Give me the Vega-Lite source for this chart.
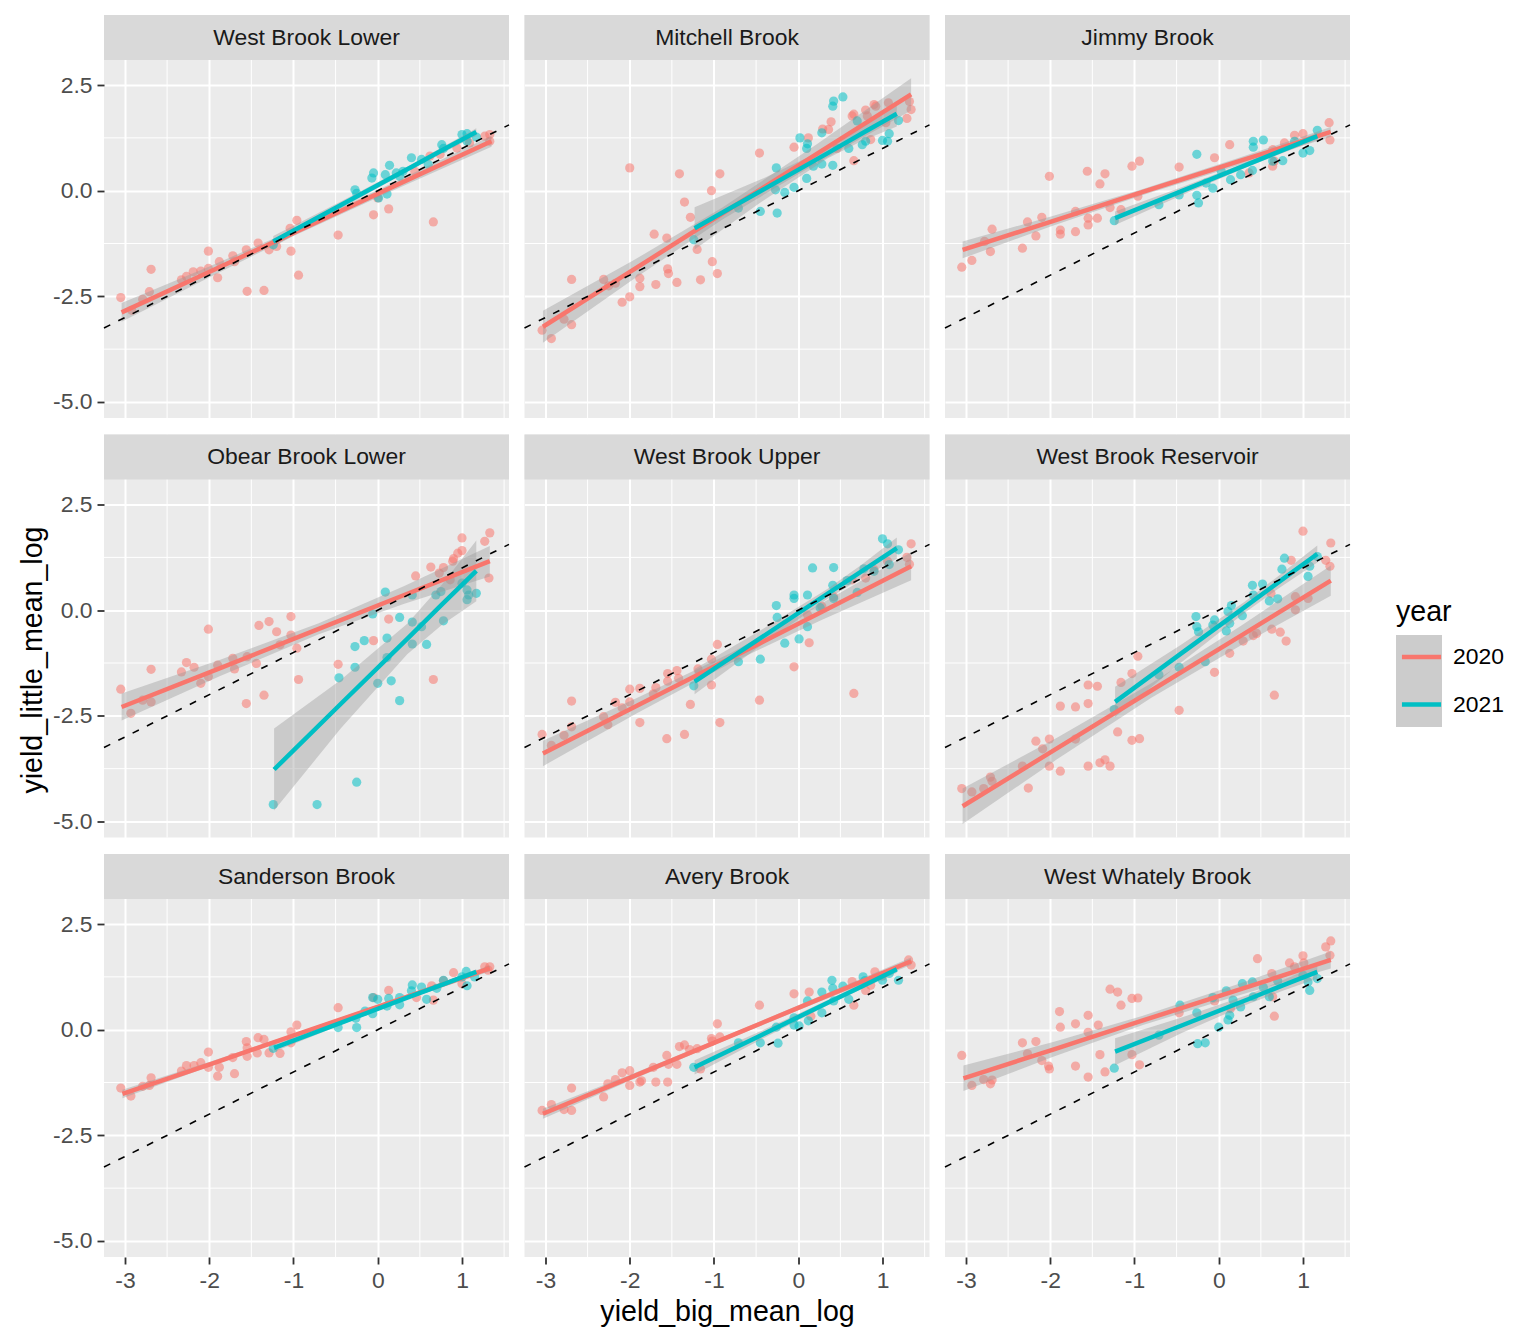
{
"$schema": "https://vega.github.io/schema/vega-lite/v6.json",
"background": "#FFFFFF",
"padding": {"left": 18, "top": 14, "right": 265, "bottom": 10},
"autosize": {"type": "pad"},
"columns": 3,
"bounds": "flush",
"spacing": {"row": 16.5, "column": 15.5},
"datasets": {
"minorx": [{"gx":-2.5},{"gx":-1.5},{"gx":-0.5},{"gx":0.5},{"gx":1.5}],
"minory": [{"gy":-3.75},{"gy":-1.25},{"gy":1.25}],
"sites": [
{"site":"WBL","name":"West Brook Lower"},{"site":"MB","name":"Mitchell Brook"},{"site":"JB","name":"Jimmy Brook"},
{"site":"OBL","name":"Obear Brook Lower"},{"site":"WBU","name":"West Brook Upper"},{"site":"WBR","name":"West Brook Reservoir"},
{"site":"SB","name":"Sanderson Brook"},{"site":"AB","name":"Avery Brook"},{"site":"WWB","name":"West Whately Brook"}],
"ref": [{"big":-3.249,"little":-3.249},{"big":1.558,"little":1.558}],
"fit": [
{"site":"WBL","year":"2020","big":-3.04,"fit":-2.88,"lo":-3.10,"hi":-2.66},{"site":"WBL","year":"2020","big":-2.02,"fit":-1.94,"lo":-2.07,"hi":-1.81},{"site":"WBL","year":"2020","big":-1.0,"fit":-1.0,"lo":-1.07,"hi":-0.93},{"site":"WBL","year":"2020","big":0.175,"fit":0.09,"lo":0.0,"hi":0.18},{"site":"WBL","year":"2020","big":1.35,"fit":1.17,"lo":1.04,"hi":1.30},
{"site":"WBL","year":"2021","big":-1.24,"fit":-1.20,"lo":-1.33,"hi":-1.07},{"site":"WBL","year":"2021","big":-0.42,"fit":-0.32,"lo":-0.40,"hi":-0.24},{"site":"WBL","year":"2021","big":0.4,"fit":0.56,"lo":0.50,"hi":0.62},{"site":"WBL","year":"2021","big":0.785,"fit":0.98,"lo":0.91,"hi":1.05},{"site":"WBL","year":"2021","big":1.17,"fit":1.39,"lo":1.30,"hi":1.48},
{"site":"MB","year":"2020","big":-3.03,"fit":-3.22,"lo":-3.60,"hi":-2.84},{"site":"MB","year":"2020","big":-1.965,"fit":-1.88,"lo":-2.11,"hi":-1.66},{"site":"MB","year":"2020","big":-0.9,"fit":-0.54,"lo":-0.68,"hi":-0.40},{"site":"MB","year":"2020","big":0.22,"fit":0.87,"lo":0.65,"hi":1.10},{"site":"MB","year":"2020","big":1.34,"fit":2.28,"lo":1.90,"hi":2.66},
{"site":"MB","year":"2021","big":-1.23,"fit":-0.89,"lo":-1.39,"hi":-0.39},{"site":"MB","year":"2021","big":-0.44,"fit":0.0,"lo":-0.27,"hi":0.27},{"site":"MB","year":"2021","big":0.35,"fit":0.89,"lo":0.77,"hi":1.01},{"site":"MB","year":"2021","big":0.76,"fit":1.36,"lo":1.18,"hi":1.54},{"site":"MB","year":"2021","big":1.17,"fit":1.82,"lo":1.52,"hi":2.12},
{"site":"JB","year":"2020","big":-3.04,"fit":-1.40,"lo":-1.60,"hi":-1.20},{"site":"JB","year":"2020","big":-1.97,"fit":-0.72,"lo":-0.83,"hi":-0.60},{"site":"JB","year":"2020","big":-0.9,"fit":-0.03,"lo":-0.10,"hi":0.04},{"site":"JB","year":"2020","big":0.215,"fit":0.68,"lo":0.59,"hi":0.76},{"site":"JB","year":"2020","big":1.33,"fit":1.39,"lo":1.27,"hi":1.51},
{"site":"JB","year":"2021","big":-1.23,"fit":-0.65,"lo":-0.81,"hi":-0.49},{"site":"JB","year":"2021","big":-0.44,"fit":-0.01,"lo":-0.11,"hi":0.08},{"site":"JB","year":"2021","big":0.35,"fit":0.63,"lo":0.57,"hi":0.69},{"site":"JB","year":"2021","big":0.76,"fit":0.96,"lo":0.89,"hi":1.03},{"site":"JB","year":"2021","big":1.17,"fit":1.29,"lo":1.20,"hi":1.38},
{"site":"OBL","year":"2020","big":-3.04,"fit":-2.29,"lo":-2.61,"hi":-1.97},{"site":"OBL","year":"2020","big":-1.87,"fit":-1.37,"lo":-1.56,"hi":-1.17},{"site":"OBL","year":"2020","big":-0.7,"fit":-0.44,"lo":-0.57,"hi":-0.31},{"site":"OBL","year":"2020","big":0.315,"fit":0.36,"lo":0.15,"hi":0.57},{"site":"OBL","year":"2020","big":1.33,"fit":1.16,"lo":0.80,"hi":1.52},
{"site":"OBL","year":"2021","big":-1.23,"fit":-3.77,"lo":-4.74,"hi":-2.80},{"site":"OBL","year":"2021","big":-0.44,"fit":-2.22,"lo":-2.80,"hi":-1.65},{"site":"OBL","year":"2021","big":0.35,"fit":-0.68,"lo":-1.04,"hi":-0.32},{"site":"OBL","year":"2021","big":0.76,"fit":0.13,"lo":-0.35,"hi":0.60},{"site":"OBL","year":"2021","big":1.17,"fit":0.93,"lo":0.21,"hi":1.65},
{"site":"WBU","year":"2020","big":-3.03,"fit":-3.39,"lo":-3.69,"hi":-3.09},{"site":"WBU","year":"2020","big":-1.915,"fit":-2.26,"lo":-2.44,"hi":-2.08},{"site":"WBU","year":"2020","big":-0.8,"fit":-1.13,"lo":-1.25,"hi":-1.01},{"site":"WBU","year":"2020","big":0.27,"fit":-0.05,"lo":-0.24,"hi":0.15},{"site":"WBU","year":"2020","big":1.34,"fit":1.04,"lo":0.71,"hi":1.37},
{"site":"WBU","year":"2021","big":-1.23,"fit":-1.69,"lo":-1.99,"hi":-1.39},{"site":"WBU","year":"2021","big":-0.44,"fit":-0.65,"lo":-0.83,"hi":-0.47},{"site":"WBU","year":"2021","big":0.35,"fit":0.39,"lo":0.27,"hi":0.51},{"site":"WBU","year":"2021","big":0.76,"fit":0.93,"lo":0.77,"hi":1.09},{"site":"WBU","year":"2021","big":1.17,"fit":1.47,"lo":1.22,"hi":1.72},
{"site":"WBR","year":"2020","big":-3.04,"fit":-4.64,"lo":-5.06,"hi":-4.22},{"site":"WBR","year":"2020","big":-1.92,"fit":-3.27,"lo":-3.53,"hi":-3.02},{"site":"WBR","year":"2020","big":-0.8,"fit":-1.90,"lo":-2.07,"hi":-1.73},{"site":"WBR","year":"2020","big":0.265,"fit":-0.60,"lo":-0.83,"hi":-0.37},{"site":"WBR","year":"2020","big":1.33,"fit":0.70,"lo":0.34,"hi":1.06},
{"site":"WBR","year":"2021","big":-1.23,"fit":-2.17,"lo":-2.53,"hi":-1.81},{"site":"WBR","year":"2021","big":-0.465,"fit":-1.05,"lo":-1.27,"hi":-0.84},{"site":"WBR","year":"2021","big":0.3,"fit":0.06,"lo":-0.07,"hi":0.19},{"site":"WBR","year":"2021","big":0.735,"fit":0.70,"lo":0.55,"hi":0.85},{"site":"WBR","year":"2021","big":1.17,"fit":1.33,"lo":1.13,"hi":1.53},
{"site":"SB","year":"2020","big":-3.03,"fit":-1.52,"lo":-1.62,"hi":-1.42},{"site":"SB","year":"2020","big":-1.965,"fit":-0.80,"lo":-0.85,"hi":-0.74},{"site":"SB","year":"2020","big":-0.9,"fit":-0.07,"lo":-0.11,"hi":-0.03},{"site":"SB","year":"2020","big":0.215,"fit":0.69,"lo":0.64,"hi":0.74},{"site":"SB","year":"2020","big":1.33,"fit":1.45,"lo":1.38,"hi":1.52},
{"site":"SB","year":"2021","big":-1.23,"fit":-0.43,"lo":-0.52,"hi":-0.34},{"site":"SB","year":"2021","big":-0.44,"fit":0.16,"lo":0.11,"hi":0.22},{"site":"SB","year":"2021","big":0.35,"fit":0.76,"lo":0.72,"hi":0.80},{"site":"SB","year":"2021","big":0.76,"fit":1.06,"lo":1.02,"hi":1.11},{"site":"SB","year":"2021","big":1.17,"fit":1.37,"lo":1.31,"hi":1.43},
{"site":"AB","year":"2020","big":-3.03,"fit":-1.99,"lo":-2.11,"hi":-1.87},{"site":"AB","year":"2020","big":-1.965,"fit":-1.11,"lo":-1.18,"hi":-1.04},{"site":"AB","year":"2020","big":-0.9,"fit":-0.23,"lo":-0.28,"hi":-0.18},{"site":"AB","year":"2020","big":0.22,"fit":0.70,"lo":0.64,"hi":0.76},{"site":"AB","year":"2020","big":1.34,"fit":1.62,"lo":1.53,"hi":1.71},
{"site":"AB","year":"2021","big":-1.23,"fit":-0.89,"lo":-1.06,"hi":-0.72},{"site":"AB","year":"2021","big":-0.44,"fit":-0.13,"lo":-0.23,"hi":-0.03},{"site":"AB","year":"2021","big":0.35,"fit":0.64,"lo":0.58,"hi":0.70},{"site":"AB","year":"2021","big":0.76,"fit":1.03,"lo":0.97,"hi":1.10},{"site":"AB","year":"2021","big":1.17,"fit":1.43,"lo":1.35,"hi":1.51},
{"site":"WWB","year":"2020","big":-3.03,"fit":-1.15,"lo":-1.45,"hi":-0.85},{"site":"WWB","year":"2020","big":-1.965,"fit":-0.47,"lo":-0.64,"hi":-0.29},{"site":"WWB","year":"2020","big":-0.9,"fit":0.22,"lo":0.11,"hi":0.33},{"site":"WWB","year":"2020","big":0.215,"fit":0.93,"lo":0.80,"hi":1.07},{"site":"WWB","year":"2020","big":1.33,"fit":1.65,"lo":1.45,"hi":1.85},
{"site":"WWB","year":"2021","big":-1.23,"fit":-0.52,"lo":-0.84,"hi":-0.20},{"site":"WWB","year":"2021","big":-0.44,"fit":0.10,"lo":-0.08,"hi":0.29},{"site":"WWB","year":"2021","big":0.35,"fit":0.72,"lo":0.61,"hi":0.83},{"site":"WWB","year":"2021","big":0.76,"fit":1.05,"lo":0.92,"hi":1.17},{"site":"WWB","year":"2021","big":1.17,"fit":1.37,"lo":1.21,"hi":1.53}
],
"pts": [
{"site":"WBL","year":"2020","big":-3.05,"little":-2.53},{"site":"WBL","year":"2020","big":-2.69,"little":-1.86},{"site":"WBL","year":"2020","big":-2.71,"little":-2.39},{"site":"WBL","year":"2020","big":-2.79,"little":-2.57},{"site":"WBL","year":"2020","big":-2.92,"little":-2.83},{"site":"WBL","year":"2020","big":-2.33,"little":-2.11},{"site":"WBL","year":"2020","big":-2.27,"little":-2.03},{"site":"WBL","year":"2020","big":-2.19,"little":-1.92},{"site":"WBL","year":"2020","big":-2.10,"little":-1.90},{"site":"WBL","year":"2020","big":-2.01,"little":-1.43},{"site":"WBL","year":"2020","big":-2.01,"little":-1.84},{"site":"WBL","year":"2020","big":-1.90,"little":-2.06},{"site":"WBL","year":"2020","big":-1.88,"little":-1.68},{"site":"WBL","year":"2020","big":-1.72,"little":-1.54},{"site":"WBL","year":"2020","big":-1.70,"little":-1.68},{"site":"WBL","year":"2020","big":-1.56,"little":-1.40},{"site":"WBL","year":"2020","big":-1.55,"little":-2.38},{"site":"WBL","year":"2020","big":-1.42,"little":-1.24},{"site":"WBL","year":"2020","big":-1.35,"little":-2.36},{"site":"WBL","year":"2020","big":-1.29,"little":-1.40},{"site":"WBL","year":"2020","big":-1.20,"little":-1.32},{"site":"WBL","year":"2020","big":-1.03,"little":-1.43},{"site":"WBL","year":"2020","big":-1.04,"little":-0.89},{"site":"WBL","year":"2020","big":-0.96,"little":-0.70},{"site":"WBL","year":"2020","big":-0.94,"little":-2.0},{"site":"WBL","year":"2020","big":-0.47,"little":-1.05},{"site":"WBL","year":"2020","big":-0.05,"little":-0.57},{"site":"WBL","year":"2020","big":0.13,"little":-0.43},{"site":"WBL","year":"2020","big":0.66,"little":-0.74},{"site":"WBL","year":"2020","big":0.44,"little":0.46},{"site":"WBL","year":"2020","big":0.62,"little":0.82},{"site":"WBL","year":"2020","big":0.74,"little":0.86},{"site":"WBL","year":"2020","big":0.94,"little":1.01},{"site":"WBL","year":"2020","big":1.09,"little":1.13},{"site":"WBL","year":"2020","big":1.27,"little":1.29},{"site":"WBL","year":"2020","big":1.33,"little":1.33},{"site":"WBL","year":"2020","big":1.33,"little":1.17},{"site":"WBL","year":"2020","big":0.0,"little":-0.17},
{"site":"WBL","year":"2021","big":-1.24,"little":-1.28},{"site":"WBL","year":"2021","big":-0.27,"little":0.02},{"site":"WBL","year":"2021","big":-0.25,"little":-0.06},{"site":"WBL","year":"2021","big":-0.07,"little":0.30},{"site":"WBL","year":"2021","big":-0.05,"little":0.42},{"site":"WBL","year":"2021","big":0.01,"little":-0.17},{"site":"WBL","year":"2021","big":0.09,"little":0.38},{"site":"WBL","year":"2021","big":0.11,"little":-0.08},{"site":"WBL","year":"2021","big":0.14,"little":0.60},{"site":"WBL","year":"2021","big":0.22,"little":0.42},{"site":"WBL","year":"2021","big":0.40,"little":0.78},{"site":"WBL","year":"2021","big":0.52,"little":0.74},{"site":"WBL","year":"2021","big":0.60,"little":0.62},{"site":"WBL","year":"2021","big":0.76,"little":1.09},{"site":"WBL","year":"2021","big":0.78,"little":1.0},{"site":"WBL","year":"2021","big":1.0,"little":1.33},{"site":"WBL","year":"2021","big":1.06,"little":1.35},{"site":"WBL","year":"2021","big":1.06,"little":1.17},{"site":"WBL","year":"2021","big":1.17,"little":1.27},{"site":"WBL","year":"2021","big":0.30,"little":0.46},{"site":"WBL","year":"2021","big":0.26,"little":0.34},
{"site":"MB","year":"2020","big":-3.04,"little":-3.30},{"site":"MB","year":"2020","big":-2.93,"little":-3.50},{"site":"MB","year":"2020","big":-2.78,"little":-3.04},{"site":"MB","year":"2020","big":-2.69,"little":-3.17},{"site":"MB","year":"2020","big":-2.69,"little":-2.10},{"site":"MB","year":"2020","big":-2.31,"little":-2.10},{"site":"MB","year":"2020","big":-2.25,"little":-2.25},{"site":"MB","year":"2020","big":-2.17,"little":-2.19},{"site":"MB","year":"2020","big":-2.09,"little":-2.64},{"site":"MB","year":"2020","big":-2.0,"little":-2.51},{"site":"MB","year":"2020","big":-2.0,"little":0.54},{"site":"MB","year":"2020","big":-1.88,"little":-2.27},{"site":"MB","year":"2020","big":-1.88,"little":-2.07},{"site":"MB","year":"2020","big":-1.71,"little":-1.03},{"site":"MB","year":"2020","big":-1.69,"little":-2.22},{"site":"MB","year":"2020","big":-1.56,"little":-1.12},{"site":"MB","year":"2020","big":-1.55,"little":-1.85},{"site":"MB","year":"2020","big":-1.54,"little":-1.96},{"site":"MB","year":"2020","big":-1.44,"little":-2.17},{"site":"MB","year":"2020","big":-1.41,"little":0.40},{"site":"MB","year":"2020","big":-1.35,"little":-0.27},{"site":"MB","year":"2020","big":-1.28,"little":-0.63},{"site":"MB","year":"2020","big":-1.20,"little":-1.39},{"site":"MB","year":"2020","big":-1.16,"little":-2.11},{"site":"MB","year":"2020","big":-1.03,"little":0.0},{"site":"MB","year":"2020","big":-1.02,"little":-1.68},{"site":"MB","year":"2020","big":-0.96,"little":-1.96},{"site":"MB","year":"2020","big":-0.93,"little":0.40},{"site":"MB","year":"2020","big":-0.46,"little":0.89},{"site":"MB","year":"2020","big":-0.05,"little":1.03},{"site":"MB","year":"2020","big":0.12,"little":1.25},{"site":"MB","year":"2020","big":0.29,"little":1.46},{"site":"MB","year":"2020","big":0.36,"little":1.45},{"site":"MB","year":"2020","big":0.39,"little":1.63},{"site":"MB","year":"2020","big":0.64,"little":1.77},{"site":"MB","year":"2020","big":0.66,"little":1.81},{"site":"MB","year":"2020","big":0.66,"little":0.71},{"site":"MB","year":"2020","big":0.80,"little":1.91},{"site":"MB","year":"2020","big":0.82,"little":1.77},{"site":"MB","year":"2020","big":0.90,"little":2.04},{"site":"MB","year":"2020","big":0.92,"little":2.0},{"site":"MB","year":"2020","big":0.86,"little":1.21},{"site":"MB","year":"2020","big":1.04,"little":1.61},{"site":"MB","year":"2020","big":1.07,"little":2.08},{"site":"MB","year":"2020","big":1.29,"little":1.71},{"site":"MB","year":"2020","big":1.32,"little":2.11},{"site":"MB","year":"2020","big":1.34,"little":1.92},{"site":"MB","year":"2020","big":0.46,"little":1.0},
{"site":"MB","year":"2021","big":-1.24,"little":-1.16},{"site":"MB","year":"2021","big":-0.71,"little":-0.41},{"site":"MB","year":"2021","big":-0.45,"little":-0.49},{"site":"MB","year":"2021","big":-0.25,"little":-0.53},{"site":"MB","year":"2021","big":-0.26,"little":0.54},{"site":"MB","year":"2021","big":-0.27,"little":0.02},{"site":"MB","year":"2021","big":-0.16,"little":-0.04},{"site":"MB","year":"2021","big":-0.05,"little":0.08},{"site":"MB","year":"2021","big":0.10,"little":0.29},{"site":"MB","year":"2021","big":0.10,"little":1.0},{"site":"MB","year":"2021","big":0.11,"little":1.11},{"site":"MB","year":"2021","big":0.02,"little":1.25},{"site":"MB","year":"2021","big":0.18,"little":0.58},{"site":"MB","year":"2021","big":0.28,"little":0.63},{"site":"MB","year":"2021","big":0.28,"little":1.37},{"site":"MB","year":"2021","big":0.41,"little":0.60},{"site":"MB","year":"2021","big":0.41,"little":2.0},{"site":"MB","year":"2021","big":0.42,"little":2.12},{"site":"MB","year":"2021","big":0.53,"little":2.22},{"site":"MB","year":"2021","big":0.60,"little":1.0},{"site":"MB","year":"2021","big":0.70,"little":1.65},{"site":"MB","year":"2021","big":0.76,"little":1.09},{"site":"MB","year":"2021","big":0.80,"little":1.17},{"site":"MB","year":"2021","big":1.0,"little":1.19},{"site":"MB","year":"2021","big":1.06,"little":1.17},{"site":"MB","year":"2021","big":1.08,"little":1.35},{"site":"MB","year":"2021","big":1.19,"little":1.66},
{"site":"JB","year":"2020","big":-3.05,"little":-1.81},{"site":"JB","year":"2020","big":-2.93,"little":-1.65},{"site":"JB","year":"2020","big":-2.78,"little":-1.20},{"site":"JB","year":"2020","big":-2.71,"little":-1.44},{"site":"JB","year":"2020","big":-2.69,"little":-0.91},{"site":"JB","year":"2020","big":-2.33,"little":-1.36},{"site":"JB","year":"2020","big":-2.27,"little":-0.74},{"site":"JB","year":"2020","big":-2.17,"little":-1.07},{"site":"JB","year":"2020","big":-2.10,"little":-0.63},{"site":"JB","year":"2020","big":-2.01,"little":0.34},{"site":"JB","year":"2020","big":-1.88,"little":-1.03},{"site":"JB","year":"2020","big":-1.88,"little":-0.93},{"site":"JB","year":"2020","big":-1.70,"little":-0.49},{"site":"JB","year":"2020","big":-1.70,"little":-0.97},{"site":"JB","year":"2020","big":-1.56,"little":0.46},{"site":"JB","year":"2020","big":-1.55,"little":-0.65},{"site":"JB","year":"2020","big":-1.55,"little":-0.81},{"site":"JB","year":"2020","big":-1.44,"little":-0.65},{"site":"JB","year":"2020","big":-1.41,"little":0.16},{"site":"JB","year":"2020","big":-1.35,"little":0.40},{"site":"JB","year":"2020","big":-1.29,"little":-0.40},{"site":"JB","year":"2020","big":-1.16,"little":-0.45},{"site":"JB","year":"2020","big":-1.03,"little":0.58},{"site":"JB","year":"2020","big":-0.94,"little":0.70},{"site":"JB","year":"2020","big":-0.96,"little":-0.13},{"site":"JB","year":"2020","big":-0.47,"little":0.56},{"site":"JB","year":"2020","big":-0.05,"little":0.78},{"site":"JB","year":"2020","big":0.13,"little":1.09},{"site":"JB","year":"2020","big":0.36,"little":0.42},{"site":"JB","year":"2020","big":0.64,"little":0.58},{"site":"JB","year":"2020","big":0.66,"little":0.70},{"site":"JB","year":"2020","big":0.78,"little":1.13},{"site":"JB","year":"2020","big":0.90,"little":1.31},{"site":"JB","year":"2020","big":1.0,"little":1.35},{"site":"JB","year":"2020","big":1.31,"little":1.61},{"site":"JB","year":"2020","big":1.32,"little":1.20},{"site":"JB","year":"2020","big":0.64,"little":0.97},
{"site":"JB","year":"2021","big":-1.24,"little":-0.71},{"site":"JB","year":"2021","big":-0.71,"little":-0.33},{"site":"JB","year":"2021","big":-0.47,"little":-0.10},{"site":"JB","year":"2021","big":-0.26,"little":-0.11},{"site":"JB","year":"2021","big":-0.24,"little":-0.29},{"site":"JB","year":"2021","big":-0.26,"little":0.86},{"site":"JB","year":"2021","big":-0.15,"little":0.18},{"site":"JB","year":"2021","big":-0.07,"little":0.06},{"site":"JB","year":"2021","big":0.03,"little":0.46},{"site":"JB","year":"2021","big":0.14,"little":0.26},{"site":"JB","year":"2021","big":0.26,"little":0.38},{"site":"JB","year":"2021","big":0.40,"little":0.48},{"site":"JB","year":"2021","big":0.41,"little":1.17},{"site":"JB","year":"2021","big":0.41,"little":1.03},{"site":"JB","year":"2021","big":0.53,"little":1.20},{"site":"JB","year":"2021","big":0.64,"little":0.70},{"site":"JB","year":"2021","big":0.76,"little":0.71},{"site":"JB","year":"2021","big":1.0,"little":0.89},{"site":"JB","year":"2021","big":1.08,"little":0.95},{"site":"JB","year":"2021","big":1.17,"little":1.43},{"site":"JB","year":"2021","big":0.90,"little":1.17},
{"site":"OBL","year":"2020","big":-3.05,"little":-1.87},{"site":"OBL","year":"2020","big":-2.93,"little":-2.44},{"site":"OBL","year":"2020","big":-2.79,"little":-2.13},{"site":"OBL","year":"2020","big":-2.69,"little":-2.17},{"site":"OBL","year":"2020","big":-2.69,"little":-1.40},{"site":"OBL","year":"2020","big":-2.33,"little":-1.46},{"site":"OBL","year":"2020","big":-2.27,"little":-1.24},{"site":"OBL","year":"2020","big":-2.18,"little":-1.35},{"site":"OBL","year":"2020","big":-2.10,"little":-1.73},{"site":"OBL","year":"2020","big":-2.01,"little":-0.45},{"site":"OBL","year":"2020","big":-2.01,"little":-1.57},{"site":"OBL","year":"2020","big":-1.90,"little":-1.30},{"site":"OBL","year":"2020","big":-1.72,"little":-1.14},{"site":"OBL","year":"2020","big":-1.70,"little":-1.39},{"site":"OBL","year":"2020","big":-1.56,"little":-2.21},{"site":"OBL","year":"2020","big":-1.55,"little":-1.10},{"site":"OBL","year":"2020","big":-1.44,"little":-1.26},{"site":"OBL","year":"2020","big":-1.41,"little":-0.36},{"site":"OBL","year":"2020","big":-1.35,"little":-2.01},{"site":"OBL","year":"2020","big":-1.29,"little":-0.27},{"site":"OBL","year":"2020","big":-1.20,"little":-0.51},{"site":"OBL","year":"2020","big":-1.16,"little":-0.82},{"site":"OBL","year":"2020","big":-1.03,"little":-0.15},{"site":"OBL","year":"2020","big":-1.03,"little":-0.59},{"site":"OBL","year":"2020","big":-0.96,"little":-0.90},{"site":"OBL","year":"2020","big":-0.94,"little":-1.64},{"site":"OBL","year":"2020","big":-0.47,"little":-1.28},{"site":"OBL","year":"2020","big":-0.05,"little":-0.72},{"site":"OBL","year":"2020","big":0.13,"little":-0.21},{"site":"OBL","year":"2020","big":0.45,"little":0.81},{"site":"OBL","year":"2020","big":0.63,"little":1.02},{"site":"OBL","year":"2020","big":0.66,"little":-1.64},{"site":"OBL","year":"2020","big":0.73,"little":0.88},{"site":"OBL","year":"2020","big":0.78,"little":1.01},{"site":"OBL","year":"2020","big":0.86,"little":0.72},{"site":"OBL","year":"2020","big":0.89,"little":1.16},{"site":"OBL","year":"2020","big":0.90,"little":1.22},{"site":"OBL","year":"2020","big":0.95,"little":1.35},{"site":"OBL","year":"2020","big":1.0,"little":1.41},{"site":"OBL","year":"2020","big":1.0,"little":1.71},{"site":"OBL","year":"2020","big":1.27,"little":1.63},{"site":"OBL","year":"2020","big":1.33,"little":1.83},{"site":"OBL","year":"2020","big":1.32,"little":0.76},
{"site":"OBL","year":"2021","big":-1.24,"little":-4.60},{"site":"OBL","year":"2021","big":-0.72,"little":-4.60},{"site":"OBL","year":"2021","big":-0.25,"little":-4.07},{"site":"OBL","year":"2021","big":-0.46,"little":-1.60},{"site":"OBL","year":"2021","big":-0.27,"little":-0.86},{"site":"OBL","year":"2021","big":-0.27,"little":-1.35},{"site":"OBL","year":"2021","big":-0.16,"little":-0.72},{"site":"OBL","year":"2021","big":-0.06,"little":-0.09},{"site":"OBL","year":"2021","big":0.0,"little":-1.73},{"site":"OBL","year":"2021","big":0.09,"little":0.43},{"site":"OBL","year":"2021","big":0.11,"little":-0.66},{"site":"OBL","year":"2021","big":0.11,"little":-1.12},{"site":"OBL","year":"2021","big":0.16,"little":-1.67},{"site":"OBL","year":"2021","big":0.26,"little":-2.14},{"site":"OBL","year":"2021","big":0.26,"little":-0.17},{"site":"OBL","year":"2021","big":0.41,"little":-0.28},{"site":"OBL","year":"2021","big":0.41,"little":-0.80},{"site":"OBL","year":"2021","big":0.41,"little":0.36},{"site":"OBL","year":"2021","big":0.52,"little":-0.39},{"site":"OBL","year":"2021","big":0.58,"little":-0.81},{"site":"OBL","year":"2021","big":0.69,"little":0.36},{"site":"OBL","year":"2021","big":0.75,"little":0.44},{"site":"OBL","year":"2021","big":0.78,"little":-0.25},{"site":"OBL","year":"2021","big":1.0,"little":0.64},{"site":"OBL","year":"2021","big":1.06,"little":0.48},{"site":"OBL","year":"2021","big":1.06,"little":0.25},{"site":"OBL","year":"2021","big":1.17,"little":0.40},{"site":"OBL","year":"2021","big":1.08,"little":0.36},
{"site":"WBU","year":"2020","big":-3.04,"little":-2.94},{"site":"WBU","year":"2020","big":-2.93,"little":-3.20},{"site":"WBU","year":"2020","big":-2.78,"little":-2.96},{"site":"WBU","year":"2020","big":-2.69,"little":-2.76},{"site":"WBU","year":"2020","big":-2.69,"little":-2.15},{"site":"WBU","year":"2020","big":-2.31,"little":-2.52},{"site":"WBU","year":"2020","big":-2.26,"little":-2.71},{"site":"WBU","year":"2020","big":-2.17,"little":-2.18},{"site":"WBU","year":"2020","big":-2.09,"little":-2.31},{"site":"WBU","year":"2020","big":-2.0,"little":-1.87},{"site":"WBU","year":"2020","big":-2.0,"little":-2.17},{"site":"WBU","year":"2020","big":-1.88,"little":-2.66},{"site":"WBU","year":"2020","big":-1.88,"little":-1.85},{"site":"WBU","year":"2020","big":-1.72,"little":-1.98},{"site":"WBU","year":"2020","big":-1.69,"little":-1.83},{"site":"WBU","year":"2020","big":-1.56,"little":-3.04},{"site":"WBU","year":"2020","big":-1.55,"little":-1.50},{"site":"WBU","year":"2020","big":-1.55,"little":-1.68},{"site":"WBU","year":"2020","big":-1.44,"little":-1.43},{"site":"WBU","year":"2020","big":-1.42,"little":-1.61},{"site":"WBU","year":"2020","big":-1.35,"little":-2.94},{"site":"WBU","year":"2020","big":-1.28,"little":-2.23},{"site":"WBU","year":"2020","big":-1.19,"little":-1.39},{"site":"WBU","year":"2020","big":-1.03,"little":-1.77},{"site":"WBU","year":"2020","big":-1.03,"little":-1.16},{"site":"WBU","year":"2020","big":-0.96,"little":-0.81},{"site":"WBU","year":"2020","big":-0.93,"little":-2.66},{"site":"WBU","year":"2020","big":-0.46,"little":-2.13},{"site":"WBU","year":"2020","big":-0.05,"little":-1.34},{"site":"WBU","year":"2020","big":0.13,"little":-0.77},{"site":"WBU","year":"2020","big":0.66,"little":-1.97},{"site":"WBU","year":"2020","big":0.28,"little":0.09},{"site":"WBU","year":"2020","big":0.42,"little":0.32},{"site":"WBU","year":"2020","big":0.64,"little":0.72},{"site":"WBU","year":"2020","big":0.80,"little":0.76},{"site":"WBU","year":"2020","big":0.90,"little":0.96},{"site":"WBU","year":"2020","big":1.06,"little":1.16},{"site":"WBU","year":"2020","big":1.29,"little":1.25},{"site":"WBU","year":"2020","big":1.32,"little":1.09},{"site":"WBU","year":"2020","big":1.34,"little":1.57},{"site":"WBU","year":"2020","big":0.11,"little":-0.11},
{"site":"WBU","year":"2021","big":-1.24,"little":-1.79},{"site":"WBU","year":"2021","big":-0.71,"little":-1.22},{"site":"WBU","year":"2021","big":-0.45,"little":-1.16},{"site":"WBU","year":"2021","big":-0.26,"little":0.11},{"site":"WBU","year":"2021","big":-0.25,"little":-0.17},{"site":"WBU","year":"2021","big":-0.16,"little":-0.78},{"site":"WBU","year":"2021","big":-0.05,"little":0.36},{"site":"WBU","year":"2021","big":-0.05,"little":0.28},{"site":"WBU","year":"2021","big":0.01,"little":-0.68},{"site":"WBU","year":"2021","big":0.11,"little":0.36},{"site":"WBU","year":"2021","big":0.11,"little":-0.39},{"site":"WBU","year":"2021","big":0.17,"little":1.0},{"site":"WBU","year":"2021","big":0.26,"little":0.06},{"site":"WBU","year":"2021","big":0.41,"little":0.59},{"site":"WBU","year":"2021","big":0.42,"little":1.01},{"site":"WBU","year":"2021","big":0.42,"little":0.28},{"site":"WBU","year":"2021","big":0.58,"little":0.70},{"site":"WBU","year":"2021","big":0.70,"little":0.42},{"site":"WBU","year":"2021","big":0.78,"little":0.98},{"site":"WBU","year":"2021","big":1.0,"little":1.69},{"site":"WBU","year":"2021","big":1.06,"little":1.57},{"site":"WBU","year":"2021","big":1.08,"little":1.08},{"site":"WBU","year":"2021","big":1.19,"little":1.43},{"site":"WBU","year":"2021","big":0.90,"little":0.92},
{"site":"WBR","year":"2020","big":-3.05,"little":-4.22},{"site":"WBR","year":"2020","big":-2.93,"little":-4.30},{"site":"WBR","year":"2020","big":-2.79,"little":-4.22},{"site":"WBR","year":"2020","big":-2.71,"little":-3.95},{"site":"WBR","year":"2020","big":-2.69,"little":-4.05},{"site":"WBR","year":"2020","big":-2.33,"little":-3.69},{"site":"WBR","year":"2020","big":-2.26,"little":-4.21},{"site":"WBR","year":"2020","big":-2.17,"little":-3.10},{"site":"WBR","year":"2020","big":-2.09,"little":-3.28},{"site":"WBR","year":"2020","big":-2.01,"little":-3.05},{"site":"WBR","year":"2020","big":-2.01,"little":-3.69},{"site":"WBR","year":"2020","big":-1.88,"little":-3.81},{"site":"WBR","year":"2020","big":-1.88,"little":-2.27},{"site":"WBR","year":"2020","big":-1.70,"little":-2.29},{"site":"WBR","year":"2020","big":-1.70,"little":-3.05},{"site":"WBR","year":"2020","big":-1.55,"little":-1.77},{"site":"WBR","year":"2020","big":-1.55,"little":-2.21},{"site":"WBR","year":"2020","big":-1.55,"little":-3.69},{"site":"WBR","year":"2020","big":-1.44,"little":-1.80},{"site":"WBR","year":"2020","big":-1.41,"little":-3.61},{"site":"WBR","year":"2020","big":-1.35,"little":-3.54},{"site":"WBR","year":"2020","big":-1.29,"little":-3.69},{"site":"WBR","year":"2020","big":-1.20,"little":-2.88},{"site":"WBR","year":"2020","big":-1.16,"little":-1.71},{"site":"WBR","year":"2020","big":-1.03,"little":-3.08},{"site":"WBR","year":"2020","big":-1.03,"little":-1.50},{"site":"WBR","year":"2020","big":-0.94,"little":-3.04},{"site":"WBR","year":"2020","big":-0.96,"little":-1.09},{"site":"WBR","year":"2020","big":-0.47,"little":-2.37},{"site":"WBR","year":"2020","big":-0.05,"little":-1.47},{"site":"WBR","year":"2020","big":0.13,"little":-1.02},{"site":"WBR","year":"2020","big":0.29,"little":-0.73},{"site":"WBR","year":"2020","big":0.41,"little":-0.60},{"site":"WBR","year":"2020","big":0.45,"little":-0.55},{"site":"WBR","year":"2020","big":0.63,"little":-0.45},{"site":"WBR","year":"2020","big":0.66,"little":-2.01},{"site":"WBR","year":"2020","big":0.73,"little":-0.52},{"site":"WBR","year":"2020","big":0.80,"little":-0.73},{"site":"WBR","year":"2020","big":0.91,"little":0.01},{"site":"WBR","year":"2020","big":0.91,"little":0.32},{"site":"WBR","year":"2020","big":1.06,"little":0.28},{"site":"WBR","year":"2020","big":1.0,"little":1.87},{"site":"WBR","year":"2020","big":0.86,"little":1.18},{"site":"WBR","year":"2020","big":1.27,"little":1.18},{"site":"WBR","year":"2020","big":1.32,"little":1.04},{"site":"WBR","year":"2020","big":1.33,"little":1.59},{"site":"WBR","year":"2020","big":0.62,"little":0.40},
{"site":"WBR","year":"2021","big":-1.24,"little":-2.35},{"site":"WBR","year":"2021","big":-0.71,"little":-1.53},{"site":"WBR","year":"2021","big":-0.47,"little":-1.35},{"site":"WBR","year":"2021","big":-0.16,"little":-1.22},{"site":"WBR","year":"2021","big":-0.27,"little":-0.15},{"site":"WBR","year":"2021","big":-0.26,"little":-0.39},{"site":"WBR","year":"2021","big":-0.24,"little":-0.51},{"site":"WBR","year":"2021","big":-0.07,"little":-0.35},{"site":"WBR","year":"2021","big":-0.05,"little":-0.23},{"site":"WBR","year":"2021","big":0.09,"little":-0.49},{"site":"WBR","year":"2021","big":0.11,"little":-0.03},{"site":"WBR","year":"2021","big":0.13,"little":-0.31},{"site":"WBR","year":"2021","big":0.15,"little":0.11},{"site":"WBR","year":"2021","big":0.28,"little":-0.13},{"site":"WBR","year":"2021","big":0.40,"little":0.59},{"site":"WBR","year":"2021","big":0.41,"little":0.36},{"site":"WBR","year":"2021","big":0.52,"little":0.62},{"site":"WBR","year":"2021","big":0.60,"little":0.22},{"site":"WBR","year":"2021","big":0.70,"little":0.27},{"site":"WBR","year":"2021","big":0.75,"little":0.97},{"site":"WBR","year":"2021","big":0.78,"little":1.23},{"site":"WBR","year":"2021","big":1.06,"little":0.80},{"site":"WBR","year":"2021","big":1.08,"little":1.04},{"site":"WBR","year":"2021","big":1.17,"little":1.27},
{"site":"SB","year":"2020","big":-3.05,"little":-1.38},{"site":"SB","year":"2020","big":-2.93,"little":-1.57},{"site":"SB","year":"2020","big":-2.79,"little":-1.34},{"site":"SB","year":"2020","big":-2.69,"little":-1.14},{"site":"SB","year":"2020","big":-2.71,"little":-1.32},{"site":"SB","year":"2020","big":-2.33,"little":-0.98},{"site":"SB","year":"2020","big":-2.27,"little":-0.85},{"site":"SB","year":"2020","big":-2.18,"little":-0.85},{"site":"SB","year":"2020","big":-2.10,"little":-0.78},{"site":"SB","year":"2020","big":-2.01,"little":-0.53},{"site":"SB","year":"2020","big":-2.01,"little":-0.89},{"site":"SB","year":"2020","big":-1.90,"little":-1.10},{"site":"SB","year":"2020","big":-1.88,"little":-0.89},{"site":"SB","year":"2020","big":-1.72,"little":-0.66},{"site":"SB","year":"2020","big":-1.70,"little":-1.04},{"site":"SB","year":"2020","big":-1.56,"little":-0.28},{"site":"SB","year":"2020","big":-1.55,"little":-0.43},{"site":"SB","year":"2020","big":-1.55,"little":-0.63},{"site":"SB","year":"2020","big":-1.43,"little":-0.55},{"site":"SB","year":"2020","big":-1.42,"little":-0.19},{"site":"SB","year":"2020","big":-1.35,"little":-0.23},{"site":"SB","year":"2020","big":-1.29,"little":-0.55},{"site":"SB","year":"2020","big":-1.16,"little":-0.56},{"site":"SB","year":"2020","big":-1.03,"little":-0.05},{"site":"SB","year":"2020","big":-0.96,"little":0.11},{"site":"SB","year":"2020","big":-1.03,"little":-0.31},{"site":"SB","year":"2020","big":-0.47,"little":0.52},{"site":"SB","year":"2020","big":-0.05,"little":0.76},{"site":"SB","year":"2020","big":0.13,"little":0.93},{"site":"SB","year":"2020","big":0.46,"little":0.76},{"site":"SB","year":"2020","big":0.64,"little":1.04},{"site":"SB","year":"2020","big":0.66,"little":0.70},{"site":"SB","year":"2020","big":0.78,"little":1.16},{"site":"SB","year":"2020","big":0.90,"little":1.35},{"site":"SB","year":"2020","big":1.0,"little":1.09},{"site":"SB","year":"2020","big":1.27,"little":1.49},{"site":"SB","year":"2020","big":1.33,"little":1.49},{"site":"SB","year":"2020","big":1.31,"little":1.41},
{"site":"SB","year":"2021","big":-1.24,"little":-0.44},{"site":"SB","year":"2021","big":-0.47,"little":0.05},{"site":"SB","year":"2021","big":-0.25,"little":0.05},{"site":"SB","year":"2021","big":-0.26,"little":0.27},{"site":"SB","year":"2021","big":-0.15,"little":0.44},{"site":"SB","year":"2021","big":-0.06,"little":0.76},{"site":"SB","year":"2021","big":-0.06,"little":0.38},{"site":"SB","year":"2021","big":0.0,"little":0.72},{"site":"SB","year":"2021","big":0.11,"little":0.56},{"site":"SB","year":"2021","big":0.13,"little":0.74},{"site":"SB","year":"2021","big":0.26,"little":0.59},{"site":"SB","year":"2021","big":0.26,"little":0.76},{"site":"SB","year":"2021","big":0.40,"little":0.92},{"site":"SB","year":"2021","big":0.41,"little":1.06},{"site":"SB","year":"2021","big":0.52,"little":1.01},{"site":"SB","year":"2021","big":0.58,"little":0.72},{"site":"SB","year":"2021","big":0.70,"little":0.98},{"site":"SB","year":"2021","big":0.78,"little":1.17},{"site":"SB","year":"2021","big":1.05,"little":1.38},{"site":"SB","year":"2021","big":1.06,"little":1.04},{"site":"SB","year":"2021","big":1.15,"little":1.25},{"site":"SB","year":"2021","big":1.0,"little":1.25},
{"site":"AB","year":"2020","big":-3.04,"little":-1.91},{"site":"AB","year":"2020","big":-2.93,"little":-1.77},{"site":"AB","year":"2020","big":-2.78,"little":-1.89},{"site":"AB","year":"2020","big":-2.69,"little":-1.91},{"site":"AB","year":"2020","big":-2.69,"little":-1.38},{"site":"AB","year":"2020","big":-2.31,"little":-1.59},{"site":"AB","year":"2020","big":-2.26,"little":-1.28},{"site":"AB","year":"2020","big":-2.17,"little":-1.18},{"site":"AB","year":"2020","big":-2.09,"little":-1.02},{"site":"AB","year":"2020","big":-2.0,"little":-0.97},{"site":"AB","year":"2020","big":-2.0,"little":-1.32},{"site":"AB","year":"2020","big":-1.88,"little":-1.24},{"site":"AB","year":"2020","big":-1.86,"little":-1.21},{"site":"AB","year":"2020","big":-1.72,"little":-0.89},{"site":"AB","year":"2020","big":-1.69,"little":-1.24},{"site":"AB","year":"2020","big":-1.56,"little":-0.61},{"site":"AB","year":"2020","big":-1.55,"little":-1.24},{"site":"AB","year":"2020","big":-1.54,"little":-0.82},{"site":"AB","year":"2020","big":-1.44,"little":-0.82},{"site":"AB","year":"2020","big":-1.41,"little":-0.40},{"site":"AB","year":"2020","big":-1.35,"little":-0.36},{"site":"AB","year":"2020","big":-1.29,"little":-0.47},{"site":"AB","year":"2020","big":-1.20,"little":-0.45},{"site":"AB","year":"2020","big":-1.16,"little":-0.93},{"site":"AB","year":"2020","big":-1.03,"little":-0.21},{"site":"AB","year":"2020","big":-1.02,"little":-0.27},{"site":"AB","year":"2020","big":-0.93,"little":-0.17},{"site":"AB","year":"2020","big":-0.96,"little":0.14},{"site":"AB","year":"2020","big":-0.46,"little":0.58},{"site":"AB","year":"2020","big":-0.05,"little":0.85},{"site":"AB","year":"2020","big":0.13,"little":0.89},{"site":"AB","year":"2020","big":0.64,"little":1.14},{"site":"AB","year":"2020","big":0.66,"little":0.58},{"site":"AB","year":"2020","big":0.80,"little":0.93},{"site":"AB","year":"2020","big":0.86,"little":1.05},{"site":"AB","year":"2020","big":0.91,"little":1.37},{"site":"AB","year":"2020","big":1.0,"little":1.27},{"site":"AB","year":"2020","big":1.31,"little":1.65},{"site":"AB","year":"2020","big":1.34,"little":1.53},{"site":"AB","year":"2020","big":0.15,"little":0.32},
{"site":"AB","year":"2021","big":-1.24,"little":-0.89},{"site":"AB","year":"2021","big":-0.71,"little":-0.31},{"site":"AB","year":"2021","big":-0.45,"little":-0.31},{"site":"AB","year":"2021","big":-0.24,"little":-0.32},{"site":"AB","year":"2021","big":-0.26,"little":0.06},{"site":"AB","year":"2021","big":-0.05,"little":0.11},{"site":"AB","year":"2021","big":0.01,"little":0.09},{"site":"AB","year":"2021","big":0.11,"little":0.68},{"site":"AB","year":"2021","big":0.12,"little":0.21},{"site":"AB","year":"2021","big":0.28,"little":0.89},{"site":"AB","year":"2021","big":0.28,"little":0.40},{"site":"AB","year":"2021","big":0.40,"little":1.17},{"site":"AB","year":"2021","big":0.41,"little":0.98},{"site":"AB","year":"2021","big":0.42,"little":0.68},{"site":"AB","year":"2021","big":0.53,"little":1.03},{"site":"AB","year":"2021","big":0.60,"little":0.72},{"site":"AB","year":"2021","big":0.77,"little":1.25},{"site":"AB","year":"2021","big":0.79,"little":1.16},{"site":"AB","year":"2021","big":1.0,"little":1.17},{"site":"AB","year":"2021","big":1.08,"little":1.33},{"site":"AB","year":"2021","big":1.19,"little":1.17},{"site":"AB","year":"2021","big":-0.05,"little":0.28},
{"site":"WWB","year":"2020","big":-3.05,"little":-0.61},{"site":"WWB","year":"2020","big":-2.93,"little":-1.32},{"site":"WWB","year":"2020","big":-2.79,"little":-1.18},{"site":"WWB","year":"2020","big":-2.71,"little":-1.28},{"site":"WWB","year":"2020","big":-2.69,"little":-1.19},{"site":"WWB","year":"2020","big":-2.33,"little":-0.31},{"site":"WWB","year":"2020","big":-2.27,"little":-0.57},{"site":"WWB","year":"2020","big":-2.17,"little":-0.28},{"site":"WWB","year":"2020","big":-2.10,"little":-0.73},{"site":"WWB","year":"2020","big":-2.02,"little":-0.86},{"site":"WWB","year":"2020","big":-2.01,"little":-0.93},{"site":"WWB","year":"2020","big":-1.89,"little":0.43},{"site":"WWB","year":"2020","big":-1.88,"little":0.06},{"site":"WWB","year":"2020","big":-1.70,"little":-0.86},{"site":"WWB","year":"2020","big":-1.70,"little":0.14},{"site":"WWB","year":"2020","big":-1.55,"little":-1.12},{"site":"WWB","year":"2020","big":-1.55,"little":0.34},{"site":"WWB","year":"2020","big":-1.55,"little":-0.06},{"site":"WWB","year":"2020","big":-1.43,"little":0.11},{"site":"WWB","year":"2020","big":-1.41,"little":-0.59},{"site":"WWB","year":"2020","big":-1.35,"little":-1.0},{"site":"WWB","year":"2020","big":-1.29,"little":0.96},{"site":"WWB","year":"2020","big":-1.20,"little":0.89},{"site":"WWB","year":"2020","big":-1.16,"little":0.58},{"site":"WWB","year":"2020","big":-1.03,"little":0.74},{"site":"WWB","year":"2020","big":-0.96,"little":0.75},{"site":"WWB","year":"2020","big":-1.03,"little":-0.59},{"site":"WWB","year":"2020","big":-0.94,"little":-0.83},{"site":"WWB","year":"2020","big":-0.47,"little":0.40},{"site":"WWB","year":"2020","big":-0.05,"little":0.68},{"site":"WWB","year":"2020","big":0.14,"little":0.50},{"site":"WWB","year":"2020","big":0.46,"little":1.68},{"site":"WWB","year":"2020","big":0.63,"little":1.33},{"site":"WWB","year":"2020","big":0.66,"little":0.32},{"site":"WWB","year":"2020","big":0.84,"little":1.58},{"site":"WWB","year":"2020","big":0.90,"little":1.49},{"site":"WWB","year":"2020","big":1.0,"little":1.75},{"site":"WWB","year":"2020","big":1.01,"little":1.58},{"site":"WWB","year":"2020","big":1.27,"little":1.96},{"site":"WWB","year":"2020","big":1.33,"little":2.10},{"site":"WWB","year":"2020","big":1.32,"little":1.76},{"site":"WWB","year":"2020","big":0.64,"little":0.78},
{"site":"WWB","year":"2021","big":-1.24,"little":-0.91},{"site":"WWB","year":"2021","big":-0.71,"little":-0.13},{"site":"WWB","year":"2021","big":-0.46,"little":0.58},{"site":"WWB","year":"2021","big":-0.25,"little":-0.33},{"site":"WWB","year":"2021","big":-0.16,"little":-0.31},{"site":"WWB","year":"2021","big":-0.26,"little":0.40},{"site":"WWB","year":"2021","big":-0.07,"little":0.76},{"site":"WWB","year":"2021","big":0.0,"little":0.06},{"site":"WWB","year":"2021","big":0.09,"little":0.92},{"site":"WWB","year":"2021","big":0.11,"little":0.23},{"site":"WWB","year":"2021","big":0.13,"little":0.34},{"site":"WWB","year":"2021","big":0.17,"little":0.70},{"site":"WWB","year":"2021","big":0.26,"little":0.54},{"site":"WWB","year":"2021","big":0.28,"little":1.09},{"site":"WWB","year":"2021","big":0.40,"little":1.13},{"site":"WWB","year":"2021","big":0.41,"little":0.78},{"site":"WWB","year":"2021","big":0.53,"little":1.0},{"site":"WWB","year":"2021","big":0.60,"little":0.78},{"site":"WWB","year":"2021","big":0.70,"little":1.15},{"site":"WWB","year":"2021","big":1.06,"little":1.13},{"site":"WWB","year":"2021","big":1.08,"little":0.93},{"site":"WWB","year":"2021","big":1.17,"little":1.21},{"site":"WWB","year":"2021","big":1.0,"little":1.29}
]
},
"concat": [
{"width":405,"height":403,"layer":[
{"data":{"name":"minorx"},"mark":{"type":"rule","stroke":"#FFFFFF","strokeWidth":1},"encoding":{"x":{"field":"gx","type":"quantitative"}}},
{"data":{"name":"minory"},"mark":{"type":"rule","stroke":"#FFFFFF","strokeWidth":1},"encoding":{"y":{"field":"gy","type":"quantitative"}}},
{"data":{"name":"pts"},"transform":[{"filter":"datum.site === 'WBL'"}],"mark":{"type":"circle","size":85,"opacity":0.55},"encoding":{"x":{"field":"big","type":"quantitative","scale":{"domain":[-3.249,1.558],"nice":false,"zero":false},"axis":{"values":[-3,-2,-1,0,1],"labels":false,"ticks":false,"title":null}},"y":{"field":"little","type":"quantitative","scale":{"domain":[-5.379,4.158],"nice":false,"zero":false},"axis":{"values":[-5,-2.5,0,2.5],"format":".1f","labelExpr":"replace(datum.label, '\u2212', '-')","title":null}},"color":{"field":"year","type":"nominal","scale":{"range":["#F8766D","#00BFC4"]},"legend":null}}},
{"data":{"name":"fit"},"transform":[{"filter":"datum.site === 'WBL'"}],"mark":{"type":"area","fillOpacity":0.4},"encoding":{"x":{"field":"big","type":"quantitative"},"y":{"field":"lo","type":"quantitative"},"y2":{"field":"hi"},"fill":{"field":"year","type":"nominal","scale":{"domain":["2020","2021"],"range":["#999999","#999999"]},"legend":{"orient":"none","legendX":1292,"legendY":620,"title":null,"padding":0,"symbolType":"square","symbolSize":2116,"symbolStrokeWidth":0,"symbolOffset":0,"rowPadding":0,"labelExpr":"''","labelOffset":6,"labelFontSize":22.9,"symbolOpacity":0.5}}}},
{"data":{"name":"fit"},"transform":[{"filter":"datum.site === 'WBL'"}],"mark":{"type":"line","strokeWidth":4.5},"encoding":{"x":{"field":"big","type":"quantitative"},"y":{"field":"fit","type":"quantitative"},"stroke":{"field":"year","type":"nominal","scale":{"range":["#F8766D","#00BFC4"]},"legend":{"orient":"none","legendX":1292,"legendY":583,"title":"year","titleFontSize":28.6,"titleFontWeight":"normal","titleColor":"#000000","titlePadding":5,"padding":0,"symbolType":"M-0.85,0H0.85","symbolSize":2116,"symbolStrokeWidth":4.5,"symbolOffset":0,"rowPadding":9.5,"labelFontSize":22.9,"labelColor":"#000000","labelOffset":6}}}},
{"data":{"name":"ref"},"mark":{"type":"line","stroke":"#000000","strokeWidth":1.6,"strokeDash":[7,9]},"encoding":{"x":{"field":"big","type":"quantitative"},"y":{"field":"little","type":"quantitative"}}},
{"data":{"name":"sites"},"transform":[{"filter":"datum.site === 'WBL'"}],"mark":{"type":"rect","fill":"#D9D9D9"},"encoding":{"x":{"datum":-3.249,"type":"quantitative"},"x2":{"datum":1.558},"y":{"datum":3.092,"type":"quantitative"},"y2":{"datum":4.158}}},
{"data":{"name":"sites"},"transform":[{"filter":"datum.site === 'WBL'"}],"mark":{"type":"text","fontSize":22.9,"fill":"#1A1A1A","font":"Liberation Sans","baseline":"middle","align":"center"},"encoding":{"x":{"datum":-0.8455,"type":"quantitative"},"y":{"datum":3.625,"type":"quantitative"},"text":{"field":"name","type":"nominal"}}}
]},
{"width":405,"height":403,"layer":[
{"data":{"name":"minorx"},"mark":{"type":"rule","stroke":"#FFFFFF","strokeWidth":1},"encoding":{"x":{"field":"gx","type":"quantitative"}}},
{"data":{"name":"minory"},"mark":{"type":"rule","stroke":"#FFFFFF","strokeWidth":1},"encoding":{"y":{"field":"gy","type":"quantitative"}}},
{"data":{"name":"pts"},"transform":[{"filter":"datum.site === 'MB'"}],"mark":{"type":"circle","size":85,"opacity":0.55},"encoding":{"x":{"field":"big","type":"quantitative","scale":{"domain":[-3.249,1.558],"nice":false,"zero":false},"axis":{"values":[-3,-2,-1,0,1],"labels":false,"ticks":false,"title":null}},"y":{"field":"little","type":"quantitative","scale":{"domain":[-5.379,4.158],"nice":false,"zero":false},"axis":{"values":[-5,-2.5,0,2.5],"labels":false,"ticks":false,"title":null}},"color":{"field":"year","type":"nominal","legend":null}}},
{"data":{"name":"fit"},"transform":[{"filter":"datum.site === 'MB'"}],"mark":{"type":"area","fillOpacity":0.4},"encoding":{"x":{"field":"big","type":"quantitative"},"y":{"field":"lo","type":"quantitative"},"y2":{"field":"hi"},"fill":{"field":"year","type":"nominal"}}},
{"data":{"name":"fit"},"transform":[{"filter":"datum.site === 'MB'"}],"mark":{"type":"line","strokeWidth":4.5},"encoding":{"x":{"field":"big","type":"quantitative"},"y":{"field":"fit","type":"quantitative"},"stroke":{"field":"year","type":"nominal"}}},
{"data":{"name":"ref"},"mark":{"type":"line","stroke":"#000000","strokeWidth":1.6,"strokeDash":[7,9]},"encoding":{"x":{"field":"big","type":"quantitative"},"y":{"field":"little","type":"quantitative"}}},
{"data":{"name":"sites"},"transform":[{"filter":"datum.site === 'MB'"}],"mark":{"type":"rect","fill":"#D9D9D9"},"encoding":{"x":{"datum":-3.249,"type":"quantitative"},"x2":{"datum":1.558},"y":{"datum":3.092,"type":"quantitative"},"y2":{"datum":4.158}}},
{"data":{"name":"sites"},"transform":[{"filter":"datum.site === 'MB'"}],"mark":{"type":"text","fontSize":22.9,"fill":"#1A1A1A","font":"Liberation Sans","baseline":"middle","align":"center"},"encoding":{"x":{"datum":-0.8455,"type":"quantitative"},"y":{"datum":3.625,"type":"quantitative"},"text":{"field":"name","type":"nominal"}}}
]},
{"width":405,"height":403,"layer":[
{"data":{"name":"minorx"},"mark":{"type":"rule","stroke":"#FFFFFF","strokeWidth":1},"encoding":{"x":{"field":"gx","type":"quantitative"}}},
{"data":{"name":"minory"},"mark":{"type":"rule","stroke":"#FFFFFF","strokeWidth":1},"encoding":{"y":{"field":"gy","type":"quantitative"}}},
{"data":{"name":"pts"},"transform":[{"filter":"datum.site === 'JB'"}],"mark":{"type":"circle","size":85,"opacity":0.55},"encoding":{"x":{"field":"big","type":"quantitative","scale":{"domain":[-3.249,1.558],"nice":false,"zero":false},"axis":{"values":[-3,-2,-1,0,1],"labels":false,"ticks":false,"title":null}},"y":{"field":"little","type":"quantitative","scale":{"domain":[-5.379,4.158],"nice":false,"zero":false},"axis":{"values":[-5,-2.5,0,2.5],"labels":false,"ticks":false,"title":null}},"color":{"field":"year","type":"nominal","legend":null}}},
{"data":{"name":"fit"},"transform":[{"filter":"datum.site === 'JB'"}],"mark":{"type":"area","fillOpacity":0.4},"encoding":{"x":{"field":"big","type":"quantitative"},"y":{"field":"lo","type":"quantitative"},"y2":{"field":"hi"},"fill":{"field":"year","type":"nominal"}}},
{"data":{"name":"fit"},"transform":[{"filter":"datum.site === 'JB'"}],"mark":{"type":"line","strokeWidth":4.5},"encoding":{"x":{"field":"big","type":"quantitative"},"y":{"field":"fit","type":"quantitative"},"stroke":{"field":"year","type":"nominal"}}},
{"data":{"name":"ref"},"mark":{"type":"line","stroke":"#000000","strokeWidth":1.6,"strokeDash":[7,9]},"encoding":{"x":{"field":"big","type":"quantitative"},"y":{"field":"little","type":"quantitative"}}},
{"data":{"name":"sites"},"transform":[{"filter":"datum.site === 'JB'"}],"mark":{"type":"rect","fill":"#D9D9D9"},"encoding":{"x":{"datum":-3.249,"type":"quantitative"},"x2":{"datum":1.558},"y":{"datum":3.092,"type":"quantitative"},"y2":{"datum":4.158}}},
{"data":{"name":"sites"},"transform":[{"filter":"datum.site === 'JB'"}],"mark":{"type":"text","fontSize":22.9,"fill":"#1A1A1A","font":"Liberation Sans","baseline":"middle","align":"center"},"encoding":{"x":{"datum":-0.8455,"type":"quantitative"},"y":{"datum":3.625,"type":"quantitative"},"text":{"field":"name","type":"nominal"}}}
]},
{"width":405,"height":403,"layer":[
{"data":{"name":"minorx"},"mark":{"type":"rule","stroke":"#FFFFFF","strokeWidth":1},"encoding":{"x":{"field":"gx","type":"quantitative"}}},
{"data":{"name":"minory"},"mark":{"type":"rule","stroke":"#FFFFFF","strokeWidth":1},"encoding":{"y":{"field":"gy","type":"quantitative"}}},
{"data":{"name":"pts"},"transform":[{"filter":"datum.site === 'OBL'"}],"mark":{"type":"circle","size":85,"opacity":0.55},"encoding":{"x":{"field":"big","type":"quantitative","scale":{"domain":[-3.249,1.558],"nice":false,"zero":false},"axis":{"values":[-3,-2,-1,0,1],"labels":false,"ticks":false,"title":null}},"y":{"field":"little","type":"quantitative","scale":{"domain":[-5.379,4.158],"nice":false,"zero":false},"axis":{"values":[-5,-2.5,0,2.5],"format":".1f","labelExpr":"replace(datum.label, '\u2212', '-')","title":"yield_little_mean_log","titleY":225,"titlePadding":5}},"color":{"field":"year","type":"nominal","legend":null}}},
{"data":{"name":"fit"},"transform":[{"filter":"datum.site === 'OBL'"}],"mark":{"type":"area","fillOpacity":0.4},"encoding":{"x":{"field":"big","type":"quantitative"},"y":{"field":"lo","type":"quantitative"},"y2":{"field":"hi"},"fill":{"field":"year","type":"nominal"}}},
{"data":{"name":"fit"},"transform":[{"filter":"datum.site === 'OBL'"}],"mark":{"type":"line","strokeWidth":4.5},"encoding":{"x":{"field":"big","type":"quantitative"},"y":{"field":"fit","type":"quantitative"},"stroke":{"field":"year","type":"nominal"}}},
{"data":{"name":"ref"},"mark":{"type":"line","stroke":"#000000","strokeWidth":1.6,"strokeDash":[7,9]},"encoding":{"x":{"field":"big","type":"quantitative"},"y":{"field":"little","type":"quantitative"}}},
{"data":{"name":"sites"},"transform":[{"filter":"datum.site === 'OBL'"}],"mark":{"type":"rect","fill":"#D9D9D9"},"encoding":{"x":{"datum":-3.249,"type":"quantitative"},"x2":{"datum":1.558},"y":{"datum":3.092,"type":"quantitative"},"y2":{"datum":4.158}}},
{"data":{"name":"sites"},"transform":[{"filter":"datum.site === 'OBL'"}],"mark":{"type":"text","fontSize":22.9,"fill":"#1A1A1A","font":"Liberation Sans","baseline":"middle","align":"center"},"encoding":{"x":{"datum":-0.8455,"type":"quantitative"},"y":{"datum":3.625,"type":"quantitative"},"text":{"field":"name","type":"nominal"}}}
]},
{"width":405,"height":403,"layer":[
{"data":{"name":"minorx"},"mark":{"type":"rule","stroke":"#FFFFFF","strokeWidth":1},"encoding":{"x":{"field":"gx","type":"quantitative"}}},
{"data":{"name":"minory"},"mark":{"type":"rule","stroke":"#FFFFFF","strokeWidth":1},"encoding":{"y":{"field":"gy","type":"quantitative"}}},
{"data":{"name":"pts"},"transform":[{"filter":"datum.site === 'WBU'"}],"mark":{"type":"circle","size":85,"opacity":0.55},"encoding":{"x":{"field":"big","type":"quantitative","scale":{"domain":[-3.249,1.558],"nice":false,"zero":false},"axis":{"values":[-3,-2,-1,0,1],"labels":false,"ticks":false,"title":null}},"y":{"field":"little","type":"quantitative","scale":{"domain":[-5.379,4.158],"nice":false,"zero":false},"axis":{"values":[-5,-2.5,0,2.5],"labels":false,"ticks":false,"title":null}},"color":{"field":"year","type":"nominal","legend":null}}},
{"data":{"name":"fit"},"transform":[{"filter":"datum.site === 'WBU'"}],"mark":{"type":"area","fillOpacity":0.4},"encoding":{"x":{"field":"big","type":"quantitative"},"y":{"field":"lo","type":"quantitative"},"y2":{"field":"hi"},"fill":{"field":"year","type":"nominal"}}},
{"data":{"name":"fit"},"transform":[{"filter":"datum.site === 'WBU'"}],"mark":{"type":"line","strokeWidth":4.5},"encoding":{"x":{"field":"big","type":"quantitative"},"y":{"field":"fit","type":"quantitative"},"stroke":{"field":"year","type":"nominal"}}},
{"data":{"name":"ref"},"mark":{"type":"line","stroke":"#000000","strokeWidth":1.6,"strokeDash":[7,9]},"encoding":{"x":{"field":"big","type":"quantitative"},"y":{"field":"little","type":"quantitative"}}},
{"data":{"name":"sites"},"transform":[{"filter":"datum.site === 'WBU'"}],"mark":{"type":"rect","fill":"#D9D9D9"},"encoding":{"x":{"datum":-3.249,"type":"quantitative"},"x2":{"datum":1.558},"y":{"datum":3.092,"type":"quantitative"},"y2":{"datum":4.158}}},
{"data":{"name":"sites"},"transform":[{"filter":"datum.site === 'WBU'"}],"mark":{"type":"text","fontSize":22.9,"fill":"#1A1A1A","font":"Liberation Sans","baseline":"middle","align":"center"},"encoding":{"x":{"datum":-0.8455,"type":"quantitative"},"y":{"datum":3.625,"type":"quantitative"},"text":{"field":"name","type":"nominal"}}}
]},
{"width":405,"height":403,"layer":[
{"data":{"name":"minorx"},"mark":{"type":"rule","stroke":"#FFFFFF","strokeWidth":1},"encoding":{"x":{"field":"gx","type":"quantitative"}}},
{"data":{"name":"minory"},"mark":{"type":"rule","stroke":"#FFFFFF","strokeWidth":1},"encoding":{"y":{"field":"gy","type":"quantitative"}}},
{"data":{"name":"pts"},"transform":[{"filter":"datum.site === 'WBR'"}],"mark":{"type":"circle","size":85,"opacity":0.55},"encoding":{"x":{"field":"big","type":"quantitative","scale":{"domain":[-3.249,1.558],"nice":false,"zero":false},"axis":{"values":[-3,-2,-1,0,1],"labels":false,"ticks":false,"title":null}},"y":{"field":"little","type":"quantitative","scale":{"domain":[-5.379,4.158],"nice":false,"zero":false},"axis":{"values":[-5,-2.5,0,2.5],"labels":false,"ticks":false,"title":null}},"color":{"field":"year","type":"nominal","legend":null}}},
{"data":{"name":"fit"},"transform":[{"filter":"datum.site === 'WBR'"}],"mark":{"type":"area","fillOpacity":0.4},"encoding":{"x":{"field":"big","type":"quantitative"},"y":{"field":"lo","type":"quantitative"},"y2":{"field":"hi"},"fill":{"field":"year","type":"nominal"}}},
{"data":{"name":"fit"},"transform":[{"filter":"datum.site === 'WBR'"}],"mark":{"type":"line","strokeWidth":4.5},"encoding":{"x":{"field":"big","type":"quantitative"},"y":{"field":"fit","type":"quantitative"},"stroke":{"field":"year","type":"nominal"}}},
{"data":{"name":"ref"},"mark":{"type":"line","stroke":"#000000","strokeWidth":1.6,"strokeDash":[7,9]},"encoding":{"x":{"field":"big","type":"quantitative"},"y":{"field":"little","type":"quantitative"}}},
{"data":{"name":"sites"},"transform":[{"filter":"datum.site === 'WBR'"}],"mark":{"type":"rect","fill":"#D9D9D9"},"encoding":{"x":{"datum":-3.249,"type":"quantitative"},"x2":{"datum":1.558},"y":{"datum":3.092,"type":"quantitative"},"y2":{"datum":4.158}}},
{"data":{"name":"sites"},"transform":[{"filter":"datum.site === 'WBR'"}],"mark":{"type":"text","fontSize":22.9,"fill":"#1A1A1A","font":"Liberation Sans","baseline":"middle","align":"center"},"encoding":{"x":{"datum":-0.8455,"type":"quantitative"},"y":{"datum":3.625,"type":"quantitative"},"text":{"field":"name","type":"nominal"}}}
]},
{"width":405,"height":403,"layer":[
{"data":{"name":"minorx"},"mark":{"type":"rule","stroke":"#FFFFFF","strokeWidth":1},"encoding":{"x":{"field":"gx","type":"quantitative"}}},
{"data":{"name":"minory"},"mark":{"type":"rule","stroke":"#FFFFFF","strokeWidth":1},"encoding":{"y":{"field":"gy","type":"quantitative"}}},
{"data":{"name":"pts"},"transform":[{"filter":"datum.site === 'SB'"}],"mark":{"type":"circle","size":85,"opacity":0.55},"encoding":{"x":{"field":"big","type":"quantitative","scale":{"domain":[-3.249,1.558],"nice":false,"zero":false},"axis":{"values":[-3,-2,-1,0,1],"format":"d","labelExpr":"replace(datum.label, '\u2212', '-')","title":null}},"y":{"field":"little","type":"quantitative","scale":{"domain":[-5.379,4.158],"nice":false,"zero":false},"axis":{"values":[-5,-2.5,0,2.5],"format":".1f","labelExpr":"replace(datum.label, '\u2212', '-')","title":null}},"color":{"field":"year","type":"nominal","legend":null}}},
{"data":{"name":"fit"},"transform":[{"filter":"datum.site === 'SB'"}],"mark":{"type":"area","fillOpacity":0.4},"encoding":{"x":{"field":"big","type":"quantitative"},"y":{"field":"lo","type":"quantitative"},"y2":{"field":"hi"},"fill":{"field":"year","type":"nominal"}}},
{"data":{"name":"fit"},"transform":[{"filter":"datum.site === 'SB'"}],"mark":{"type":"line","strokeWidth":4.5},"encoding":{"x":{"field":"big","type":"quantitative"},"y":{"field":"fit","type":"quantitative"},"stroke":{"field":"year","type":"nominal"}}},
{"data":{"name":"ref"},"mark":{"type":"line","stroke":"#000000","strokeWidth":1.6,"strokeDash":[7,9]},"encoding":{"x":{"field":"big","type":"quantitative"},"y":{"field":"little","type":"quantitative"}}},
{"data":{"name":"sites"},"transform":[{"filter":"datum.site === 'SB'"}],"mark":{"type":"rect","fill":"#D9D9D9"},"encoding":{"x":{"datum":-3.249,"type":"quantitative"},"x2":{"datum":1.558},"y":{"datum":3.092,"type":"quantitative"},"y2":{"datum":4.158}}},
{"data":{"name":"sites"},"transform":[{"filter":"datum.site === 'SB'"}],"mark":{"type":"text","fontSize":22.9,"fill":"#1A1A1A","font":"Liberation Sans","baseline":"middle","align":"center"},"encoding":{"x":{"datum":-0.8455,"type":"quantitative"},"y":{"datum":3.625,"type":"quantitative"},"text":{"field":"name","type":"nominal"}}}
]},
{"width":405,"height":403,"layer":[
{"data":{"name":"minorx"},"mark":{"type":"rule","stroke":"#FFFFFF","strokeWidth":1},"encoding":{"x":{"field":"gx","type":"quantitative"}}},
{"data":{"name":"minory"},"mark":{"type":"rule","stroke":"#FFFFFF","strokeWidth":1},"encoding":{"y":{"field":"gy","type":"quantitative"}}},
{"data":{"name":"pts"},"transform":[{"filter":"datum.site === 'AB'"}],"mark":{"type":"circle","size":85,"opacity":0.55},"encoding":{"x":{"field":"big","type":"quantitative","scale":{"domain":[-3.249,1.558],"nice":false,"zero":false},"axis":{"values":[-3,-2,-1,0,1],"format":"d","labelExpr":"replace(datum.label, '\u2212', '-')","title":"yield_big_mean_log","titlePadding":6}},"y":{"field":"little","type":"quantitative","scale":{"domain":[-5.379,4.158],"nice":false,"zero":false},"axis":{"values":[-5,-2.5,0,2.5],"labels":false,"ticks":false,"title":null}},"color":{"field":"year","type":"nominal","legend":null}}},
{"data":{"name":"fit"},"transform":[{"filter":"datum.site === 'AB'"}],"mark":{"type":"area","fillOpacity":0.4},"encoding":{"x":{"field":"big","type":"quantitative"},"y":{"field":"lo","type":"quantitative"},"y2":{"field":"hi"},"fill":{"field":"year","type":"nominal"}}},
{"data":{"name":"fit"},"transform":[{"filter":"datum.site === 'AB'"}],"mark":{"type":"line","strokeWidth":4.5},"encoding":{"x":{"field":"big","type":"quantitative"},"y":{"field":"fit","type":"quantitative"},"stroke":{"field":"year","type":"nominal"}}},
{"data":{"name":"ref"},"mark":{"type":"line","stroke":"#000000","strokeWidth":1.6,"strokeDash":[7,9]},"encoding":{"x":{"field":"big","type":"quantitative"},"y":{"field":"little","type":"quantitative"}}},
{"data":{"name":"sites"},"transform":[{"filter":"datum.site === 'AB'"}],"mark":{"type":"rect","fill":"#D9D9D9"},"encoding":{"x":{"datum":-3.249,"type":"quantitative"},"x2":{"datum":1.558},"y":{"datum":3.092,"type":"quantitative"},"y2":{"datum":4.158}}},
{"data":{"name":"sites"},"transform":[{"filter":"datum.site === 'AB'"}],"mark":{"type":"text","fontSize":22.9,"fill":"#1A1A1A","font":"Liberation Sans","baseline":"middle","align":"center"},"encoding":{"x":{"datum":-0.8455,"type":"quantitative"},"y":{"datum":3.625,"type":"quantitative"},"text":{"field":"name","type":"nominal"}}}
]},
{"width":405,"height":403,"layer":[
{"data":{"name":"minorx"},"mark":{"type":"rule","stroke":"#FFFFFF","strokeWidth":1},"encoding":{"x":{"field":"gx","type":"quantitative"}}},
{"data":{"name":"minory"},"mark":{"type":"rule","stroke":"#FFFFFF","strokeWidth":1},"encoding":{"y":{"field":"gy","type":"quantitative"}}},
{"data":{"name":"pts"},"transform":[{"filter":"datum.site === 'WWB'"}],"mark":{"type":"circle","size":85,"opacity":0.55},"encoding":{"x":{"field":"big","type":"quantitative","scale":{"domain":[-3.249,1.558],"nice":false,"zero":false},"axis":{"values":[-3,-2,-1,0,1],"format":"d","labelExpr":"replace(datum.label, '\u2212', '-')","title":null}},"y":{"field":"little","type":"quantitative","scale":{"domain":[-5.379,4.158],"nice":false,"zero":false},"axis":{"values":[-5,-2.5,0,2.5],"labels":false,"ticks":false,"title":null}},"color":{"field":"year","type":"nominal","legend":null}}},
{"data":{"name":"fit"},"transform":[{"filter":"datum.site === 'WWB'"}],"mark":{"type":"area","fillOpacity":0.4},"encoding":{"x":{"field":"big","type":"quantitative"},"y":{"field":"lo","type":"quantitative"},"y2":{"field":"hi"},"fill":{"field":"year","type":"nominal"}}},
{"data":{"name":"fit"},"transform":[{"filter":"datum.site === 'WWB'"}],"mark":{"type":"line","strokeWidth":4.5},"encoding":{"x":{"field":"big","type":"quantitative"},"y":{"field":"fit","type":"quantitative"},"stroke":{"field":"year","type":"nominal"}}},
{"data":{"name":"ref"},"mark":{"type":"line","stroke":"#000000","strokeWidth":1.6,"strokeDash":[7,9]},"encoding":{"x":{"field":"big","type":"quantitative"},"y":{"field":"little","type":"quantitative"}}},
{"data":{"name":"sites"},"transform":[{"filter":"datum.site === 'WWB'"}],"mark":{"type":"rect","fill":"#D9D9D9"},"encoding":{"x":{"datum":-3.249,"type":"quantitative"},"x2":{"datum":1.558},"y":{"datum":3.092,"type":"quantitative"},"y2":{"datum":4.158}}},
{"data":{"name":"sites"},"transform":[{"filter":"datum.site === 'WWB'"}],"mark":{"type":"text","fontSize":22.9,"fill":"#1A1A1A","font":"Liberation Sans","baseline":"middle","align":"center"},"encoding":{"x":{"datum":-0.8455,"type":"quantitative"},"y":{"datum":3.625,"type":"quantitative"},"text":{"field":"name","type":"nominal"}}}
]}
],
"config": {
"font": "Liberation Sans",
"view": {"fill": "#EBEBEB", "stroke": null},
"axis": {"domain": false, "grid": true, "gridColor": "#FFFFFF", "gridWidth": 2, "labelFont": "Liberation Sans", "labelFontSize": 22.9, "labelColor": "#4D4D4D", "tickColor": "#333333", "tickSize": 7, "tickWidth": 1.8, "labelPadding": 5, "titleFont": "Liberation Sans", "titleFontSize": 28.6, "titleFontWeight": "normal", "titleColor": "#000000", "labelOverlap": false, "labelFlush": false, "labelBound": false},
"legend": {"labelFont": "Liberation Sans", "titleFont": "Liberation Sans"}
}
}
